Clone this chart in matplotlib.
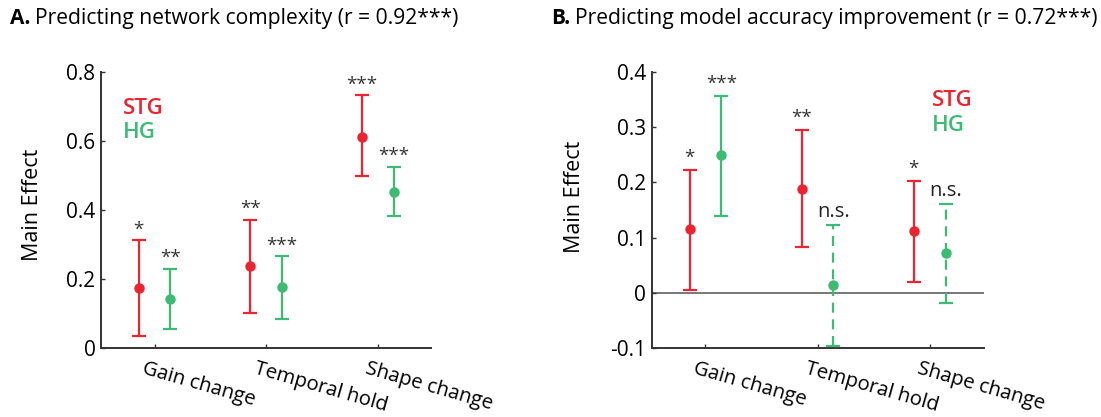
import numpy as np
import matplotlib.pyplot as plt
from matplotlib.transforms import ScaledTranslation

plt.rcParams['font.family'] = ['Open Sans', 'DejaVu Sans']

categories = ["Gain change", "Temporal hold", "Shape change"]

# panel A: network complexity
a_stg = [0.174, 0.237, 0.612]
a_stg_lo = [0.034, 0.100, 0.497]
a_stg_hi = [0.311, 0.370, 0.732]
a_hg = [0.142, 0.175, 0.452]
a_hg_lo = [0.053, 0.084, 0.381]
a_hg_hi = [0.229, 0.265, 0.524]
a_stg_sig = ["*", "**", "***"]
a_hg_sig = ["**", "***", "***"]

# panel B: model accuracy improvement
b_stg = [0.115, 0.188, 0.111]
b_stg_lo = [0.005, 0.082, 0.019]
b_stg_hi = [0.223, 0.295, 0.203]
b_hg = [0.249, 0.013, 0.072]
b_hg_lo = [0.140, -0.097, -0.019]
b_hg_hi = [0.357, 0.122, 0.161]
b_stg_sig = ["*", "**", "*"]
b_hg_sig = ["***", "n.s.", "n.s."]

RED = "#ec2330"
GREEN = "#3dba74"
AX = "#333333"
off = 0.142


def draw_series(ax, xs, y, lo, hi, sig, color, sig_off):
    for i in range(len(xs)):
        ns = sig[i] == "n.s."
        eb = ax.errorbar(xs[i], y[i], yerr=[[y[i] - lo[i]], [hi[i] - y[i]]],
                         fmt="o", color=color, ms=6.5, elinewidth=1.6,
                         capsize=5, capthick=1.6, zorder=3)
        for lc in eb[2]:
            lc.set_linestyle((0, (4.5, 3)) if ns else "-")
        ax.text(xs[i], hi[i] + sig_off, sig[i], ha="center", va="bottom",
                fontsize=14.5 if ns else 13.5,
                color="#222222" if ns else "#333333")


def style_axes(ax, xlim, ylim, yticks, yticklabels, ylab_pos):
    ax.set_xlim(*xlim)
    ax.set_ylim(*ylim)
    ax.set_yticks(yticks)
    ax.set_yticklabels(yticklabels, fontsize=15)
    ax.set_xticks([1, 2, 3])
    for s in ["top", "right"]:
        ax.spines[s].set_visible(False)
    for s in ["left", "bottom"]:
        ax.spines[s].set_color(AX)
        ax.spines[s].set_linewidth(1.4)
    ax.tick_params(direction="in", length=3, width=1, color=AX, pad=4)
    ax.tick_params(axis="x", pad=6)
    ax.set_xticklabels(categories, fontsize=14.6, rotation=-16,
                       ha="left", va="top", rotation_mode="anchor")
    # shift the slanted labels a little left and down, as in the original
    dx = ScaledTranslation(-9 / 100, -3 / 100, ax.figure.dpi_scale_trans)
    for lab in ax.get_xticklabels():
        lab.set_transform(lab.get_transform() + dx)
    ax.set_ylabel("Main Effect", fontsize=15.5)
    ax.yaxis.set_label_coords(*ylab_pos)


fig = plt.figure(figsize=(11.01, 4.17), dpi=100)
axA = fig.add_axes([0.0917, 0.1662, 0.2996, 0.662])
axB = fig.add_axes([0.592, 0.1662, 0.3018, 0.6604])

x = np.arange(1, len(categories) + 1)

draw_series(axA, x - off, a_stg, a_stg_lo, a_stg_hi, a_stg_sig, RED, 0.005)
draw_series(axA, x + off, a_hg, a_hg_lo, a_hg_hi, a_hg_sig, GREEN, 0.005)
style_axes(axA, (0.519, 3.475), (0, 0.8), [0, 0.2, 0.4, 0.6, 0.8],
           ["0", "0.2", "0.4", "0.6", "0.8"], (-0.175, 0.517))
axA.text(0.066, 0.865, "STG", color=RED, fontsize=16, fontweight="semibold",
         transform=axA.transAxes, va="center")
axA.text(0.066, 0.78, "HG", color=GREEN, fontsize=16, fontweight="semibold",
         transform=axA.transAxes, va="center")

axB.axhline(0, color="#777777", lw=1.4, zorder=1)
draw_series(axB, x - off, b_stg, b_stg_lo, b_stg_hi, b_stg_sig, RED, 0.006)
draw_series(axB, x + off, b_hg, b_hg_lo, b_hg_hi, b_hg_sig, GREEN, 0.006)
style_axes(axB, (0.521, 3.486), (-0.1, 0.4), [-0.1, 0, 0.1, 0.2, 0.3, 0.4],
           ["-0.1", "0", "0.1", "0.2", "0.3", "0.4"], (-0.2, 0.549))
axB.text(0.843, 0.896, "STG", color=RED, fontsize=16, fontweight="semibold",
         transform=axB.transAxes, va="center")
axB.text(0.843, 0.808, "HG", color=GREEN, fontsize=16, fontweight="semibold",
         transform=axB.transAxes, va="center")

fig.text(0.0095, 0.955, "A.", fontsize=15, fontweight="bold", va="center")
fig.text(0.032, 0.955, "Predicting network complexity (r = 0.92***)",
         fontsize=15.2, va="center")
fig.text(0.501, 0.955, "B.", fontsize=15, fontweight="bold", va="center")
fig.text(0.522, 0.955, "Predicting model accuracy improvement (r = 0.72***)",
         fontsize=15.2, va="center")

fig.savefig("out.png", dpi=100)
